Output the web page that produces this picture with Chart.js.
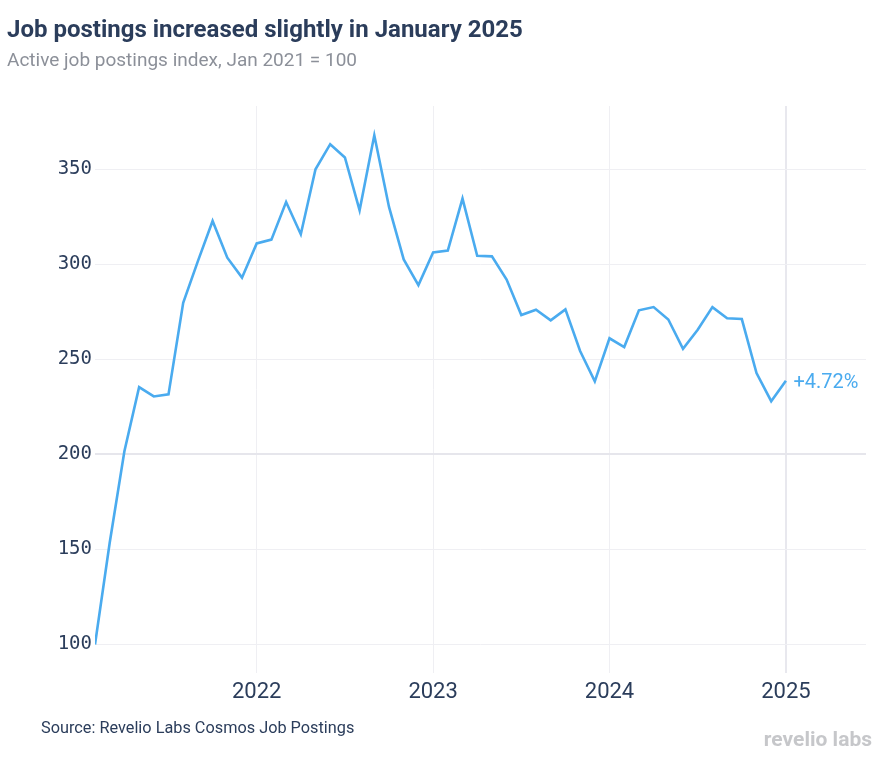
<!DOCTYPE html>
<html>
<head>
<meta charset="utf-8">
<title>Job postings index</title>
<script src="https://cdn.jsdelivr.net/npm/chart.js@4.4.1/dist/chart.umd.min.js"></script>
<style>
  html, body { margin: 0; padding: 0; background: #fff; }
  #chart { display: block; }
</style>
</head>
<body>
<canvas id="chart" width="892" height="766"></canvas>
<script>
// Monthly points (month-end), Jan 2021 = 100
const months = [
  'Jan 2021', 'Feb 2021', 'Mar 2021', 'Apr 2021', 'May 2021', 'Jun 2021',
  'Jul 2021', 'Aug 2021', 'Sep 2021', 'Oct 2021', 'Nov 2021', 'Dec 2021',
  'Jan 2022', 'Feb 2022', 'Mar 2022', 'Apr 2022', 'May 2022', 'Jun 2022',
  'Jul 2022', 'Aug 2022', 'Sep 2022', 'Oct 2022', 'Nov 2022', 'Dec 2022',
  'Jan 2023', 'Feb 2023', 'Mar 2023', 'Apr 2023', 'May 2023', 'Jun 2023',
  'Jul 2023', 'Aug 2023', 'Sep 2023', 'Oct 2023', 'Nov 2023', 'Dec 2023',
  'Jan 2024', 'Feb 2024', 'Mar 2024', 'Apr 2024', 'May 2024', 'Jun 2024',
  'Jul 2024', 'Aug 2024', 'Sep 2024', 'Oct 2024', 'Nov 2024', 'Dec 2024'
];
const postingsIndex = [
  100.0, 153.5, 201.7, 235.4, 230.5, 231.6,
  279.8, 301.7, 322.8, 303.5, 293.0, 311.0,
  313.0, 332.8, 315.8, 350.0, 363.2, 356.2,
  328.4, 367.9, 330.2, 302.6, 289.1, 306.2,
  307.2, 334.6, 304.5, 304.2, 292.0, 273.3,
  276.1, 270.5, 276.3, 254.4, 238.4, 261.1,
  256.5, 275.8, 277.5, 271.0, 255.6, 265.6,
  277.5, 271.6, 271.2, 242.8, 228.0, 238.76
];
const yearTicks = [2022, 2023, 2024, 2025];
const valueTicks = [100, 150, 200, 250, 300, 350];

const monthNames = ['Jan', 'Feb', 'Mar', 'Apr', 'May', 'Jun', 'Jul', 'Aug', 'Sep', 'Oct', 'Nov', 'Dec'];

// month-end position on a year axis
function monthToX(label) {
  const [m, y] = label.split(' ');
  return Number(y) + (monthNames.indexOf(m) + 1) / 12;
}

const points = months.map((m, i) => ({ x: monthToX(m), y: postingsIndex[i] }));

const navy = '#2b3d5b';
const lineBlue = '#4aabef';

const overlay = {
  id: 'overlay',
  afterDraw(chart) {
    const ctx = chart.ctx;
    ctx.save();
    ctx.textBaseline = 'alphabetic';
    ctx.textAlign = 'left';

    ctx.fillStyle = navy;
    ctx.font = 'bold 24px Roboto';
    ctx.fillText('Job postings increased slightly in January 2025', 7, 37);

    ctx.fillStyle = '#8c9099';
    ctx.font = '19px Roboto';
    ctx.fillText('Active job postings index, Jan 2021 = 100', 7, 66);

    ctx.fillStyle = navy;
    ctx.font = '16.3px Roboto';
    ctx.fillText('Source: Revelio Labs Cosmos Job Postings', 41, 733);

    ctx.fillStyle = '#c6c7ca';
    ctx.font = 'bold 21px Roboto';
    ctx.textAlign = 'right';
    ctx.fillText('revelio labs', 872, 746);

    // change label next to last point
    const meta = chart.getDatasetMeta(0);
    const last = meta.data[meta.data.length - 1];
    const n = postingsIndex.length;
    const change = (postingsIndex[n - 1] / postingsIndex[n - 2] - 1) * 100;
    ctx.textAlign = 'left';
    ctx.fillStyle = lineBlue;
    ctx.font = '20px Roboto';
    ctx.fillText('+' + change.toFixed(2) + '%', last.x + 7.5, last.y + 7);
    ctx.restore();
  }
};

new Chart(document.getElementById('chart'), {
  type: 'line',
  data: {
    datasets: [{
      data: points,
      borderColor: lineBlue,
      borderWidth: 2.6,
      pointRadius: 0,
      tension: 0,
      fill: false
    }]
  },
  options: {
    responsive: false,
    animation: false,
    devicePixelRatio: 1,
    layout: { padding: { top: 106, right: 26, left: 0, bottom: 0 } },
    plugins: {
      legend: { display: false },
      tooltip: { enabled: false }
    },
    scales: {
      x: {
        type: 'linear',
        min: monthToX(months[0]),
        max: 2025.454,
        afterFit: (scale) => { scale.height = 93; },
        afterBuildTicks: (scale) => { scale.ticks = yearTicks.map(v => ({ value: v })); },
        border: { display: false },
        grid: {
          drawTicks: false,
          color: (c) => c.tick && c.tick.value === 2025 ? '#e8e8ee' : '#efeff3',
          lineWidth: (c) => c.tick && c.tick.value === 2025 ? 2 : 1
        },
        ticks: {
          padding: 6,
          color: navy,
          font: { family: 'Roboto', size: 22 },
          callback: (v) => String(v)
        }
      },
      y: {
        min: 85,
        max: 383.3,
        afterFit: (scale) => { scale.width = 95; },
        afterBuildTicks: (scale) => { scale.ticks = valueTicks.map(v => ({ value: v })); },
        border: { display: false },
        grid: {
          drawTicks: false,
          color: (c) => c.tick && c.tick.value === 200 ? '#e6e6ec' : '#efeff3',
          lineWidth: (c) => c.tick && c.tick.value === 200 ? 2 : 1
        },
        ticks: {
          padding: 3,
          color: navy,
          font: { family: 'DejaVu Sans Mono', size: 19 }
        }
      }
    }
  },
  plugins: [overlay]
});
</script>
</body>
</html>
